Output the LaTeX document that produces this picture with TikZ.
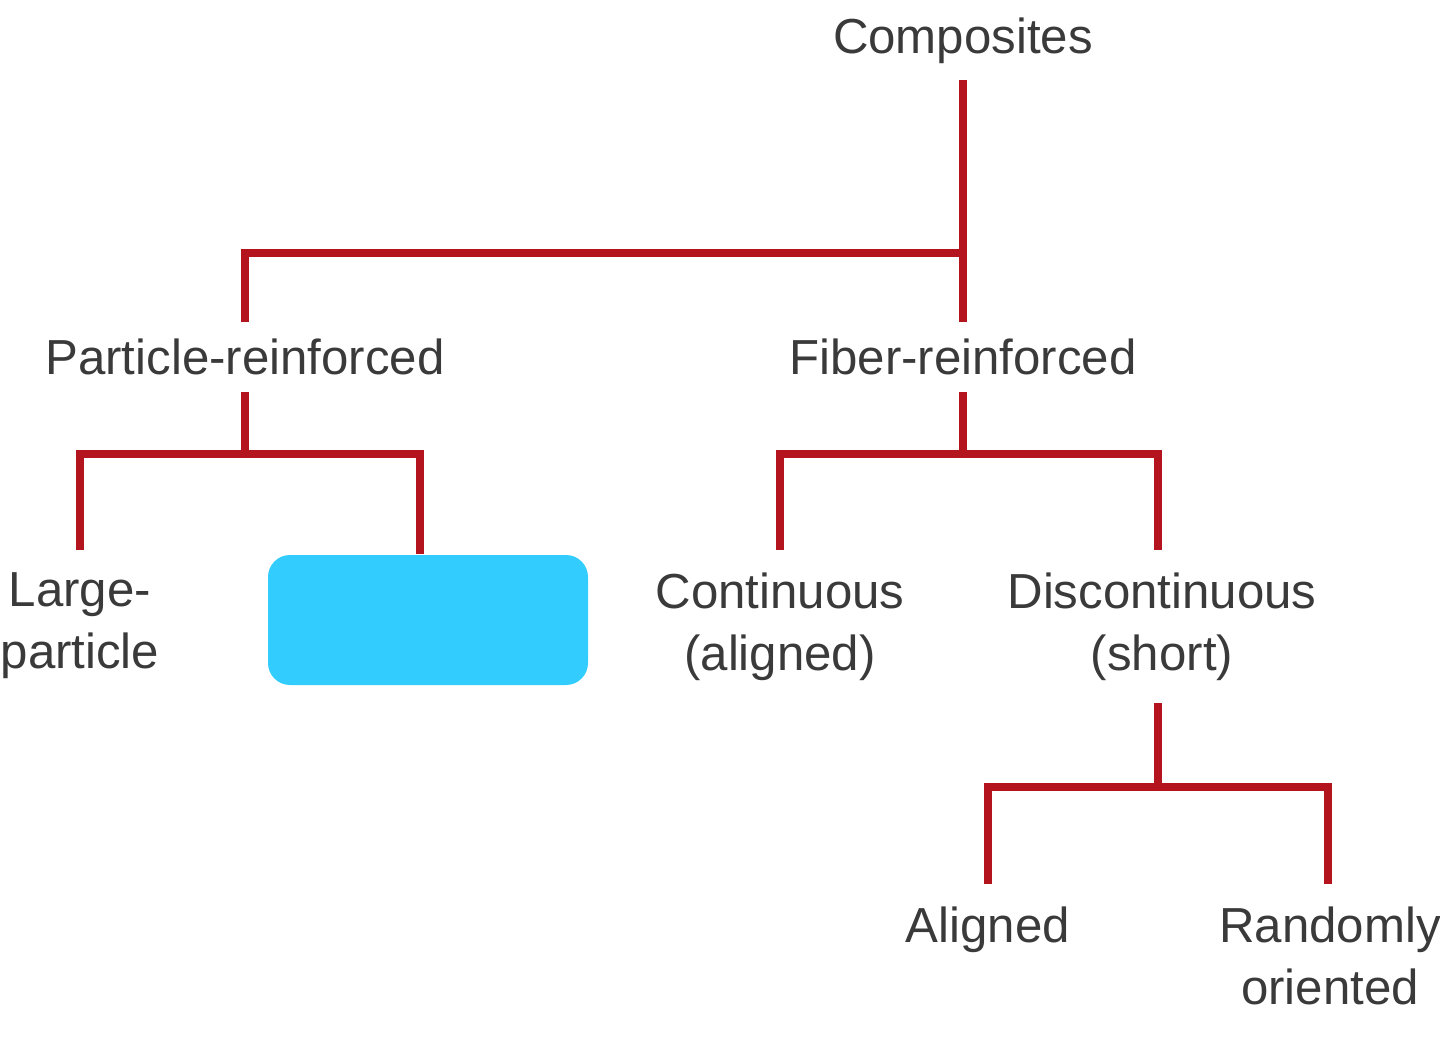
\documentclass[tikz,border=0pt]{standalone}
\usepackage{fontspec}
\setmainfont{Liberation Sans}
\definecolor{linered}{HTML}{B4141E}
\definecolor{txtgray}{HTML}{3A3A3A}
\definecolor{blotblue}{HTML}{33CCFF}
\begin{document}
\begin{tikzpicture}[line join=miter, line cap=butt,
	cat/.style={font=\fontsize{14pt}{17.6pt}\selectfont, text=txtgray, inner xsep=0pt, inner ysep=.16cm, align=center},
	twoline/.style={cat, inner ysep=.22cm},
	branch/.style={draw=linered, line width=2.3pt}]
	\useasboundingbox (0,0) rectangle (14.4,-10.42);
	\def\drop{.62}
	\node[cat, anchor=south] (comp) at (9.63,-.80) {Composites};
	\node[cat, anchor=north] (part) at (2.45,-3.22) {Particle-reinforced};
	\node[cat, anchor=north] (fib) at (9.63,-3.22) {Fiber-reinforced};
	\node[twoline, anchor=north] (large) at (.80,-5.50) {Large-\\particle};
	\node[fill=blotblue, rounded corners=.22cm, minimum width=3.2cm, minimum height=1.3cm, inner sep=0pt] (hidden) at (4.28,-6.20) {};
	\node[twoline, anchor=north] (cont) at (7.80,-5.50) {Continuous\\(aligned)};
	\node[twoline, anchor=north] (disc) at (11.62,-5.50) {Discontinuous\\(short)};
	\node[twoline, anchor=north] (alig) at (9.88,-8.84) {Aligned};
	\node[twoline, anchor=north] (rand) at (13.30,-8.84) {Randomly\\oriented};
	% tree branches
	\draw[branch] (comp.south) -- (fib.north);
	\draw[branch] (part.north) |- ([yshift=-1.73cm]comp.south);
	\draw[branch] (part.south) -- ++(0,-\drop);
	\draw[branch] (large.north) |- ([yshift=-\drop cm]part.south) -| ([xshift=-.08cm]hidden.north);
	\draw[branch] (fib.south) -- ++(0,-\drop);
	\draw[branch] (cont.north) |- ([yshift=-\drop cm]fib.south) -| ([xshift=-.04cm]disc.north);
	\draw[branch] ([xshift=-.04cm]disc.south) -- ++(0,-.84);
	\draw[branch] (alig.north) |- ([xshift=-.04cm,yshift=-.84cm]disc.south) -| ([xshift=-.02cm]rand.north);
\end{tikzpicture}
\end{document}
